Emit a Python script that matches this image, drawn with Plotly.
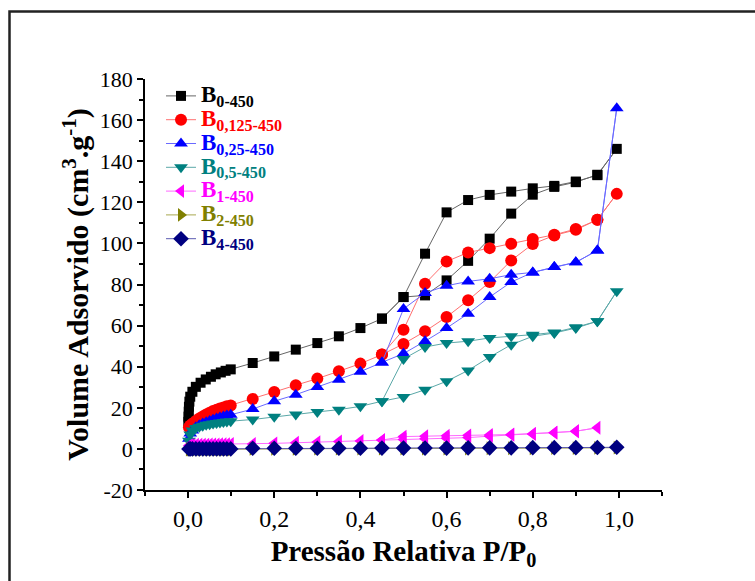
import plotly.graph_objects as go

# ---------------- data ----------------
P_LOW_B0 = [0.0005, 0.001, 0.0015, 0.002, 0.003, 0.005, 0.01, 0.018, 0.029, 0.041, 0.053, 0.064, 0.076, 0.087, 0.099]
P_LOW = [0.002, 0.005, 0.01, 0.018, 0.026, 0.034, 0.042, 0.05, 0.058, 0.066, 0.074, 0.082, 0.09, 0.099]
P_ADS = [0.15, 0.20, 0.25, 0.30, 0.35, 0.40, 0.45, 0.50, 0.55, 0.60, 0.65, 0.70, 0.75, 0.80, 0.85, 0.90, 0.95, 0.995]
P_ADS_B1 = [0.15, 0.20, 0.25, 0.30, 0.35, 0.40, 0.45, 0.50, 0.55, 0.60, 0.65, 0.70, 0.75, 0.80, 0.85, 0.90, 0.95]
P_DES = [0.95, 0.90, 0.85, 0.80, 0.75, 0.70, 0.65, 0.60, 0.55, 0.50, 0.45]

B0_LOW = [13.2, 15.7, 18.1, 20.5, 23.0, 25.4, 27.8, 30.2, 32.2, 33.8, 35.1, 36.3, 37.2, 38.0, 38.7]
B0_ADS = [41.8, 45.0, 48.3, 51.5, 54.8, 58.8, 63.4, 73.9, 74.7, 82.0, 91.5, 102.3, 114.5, 123.7, 127.5, 129.8, 133.4, 146.0]
B0_DES = [133.2, 130.1, 128.0, 126.8, 125.2, 123.6, 121.1, 115.1, 95.0, 73.9, 63.4]

B0125_LOW = [10.5, 11.4, 12.3, 13.6, 14.8, 15.8, 16.8, 17.6, 18.4, 19.0, 19.7, 20.2, 20.7, 21.1]
B0125_ADS = [24.3, 27.7, 31.0, 34.2, 37.8, 41.5, 45.9, 51.1, 57.2, 64.2, 72.3, 81.2, 91.7, 99.7, 103.9, 106.6, 111.5, 124.1]
B0125_DES = [111.5, 107.0, 104.2, 102.1, 99.8, 97.7, 95.6, 91.2, 80.4, 58.0, 45.9]

B025_LOW = [5.0, 7.5, 9.0, 10.5, 11.5, 12.3, 13.0, 13.6, 14.2, 14.8, 15.3, 15.8, 16.2, 16.6]
B025_ADS = [19.4, 23.2, 26.4, 30.1, 33.7, 37.6, 42.1, 46.4, 52.4, 58.8, 65.8, 73.9, 81.2, 85.9, 88.5, 90.8, 96.6, 165.8]
B025_DES = [96.6, 90.8, 88.5, 85.9, 84.8, 82.8, 81.5, 79.4, 75.9, 68.1, 42.1]

B05_LOW = [4.0, 7.0, 9.0, 10.2, 10.8, 11.3, 11.7, 12.0, 12.3, 12.6, 12.9, 13.1, 13.3, 13.5]
B05_ADS = [14.3, 15.6, 16.7, 18.0, 19.1, 20.7, 23.2, 25.3, 28.8, 32.9, 38.2, 44.7, 50.7, 54.8, 56.4, 58.8, 62.1, 76.7]
B05_DES = [62.1, 59.2, 56.7, 55.6, 54.8, 54.0, 52.4, 51.5, 49.6, 43.8, 23.2]

B1_LOW = [1.6, 1.8, 1.9, 2.0, 2.0, 2.1, 2.1, 2.2, 2.2, 2.2, 2.3, 2.3, 2.3, 2.4]
B1_ADS = [2.4, 2.7, 3.0, 3.3, 3.6, 3.9, 4.3, 4.6, 4.9, 5.2, 5.5, 6.2, 6.8, 7.3, 7.9, 8.6, 10.3]
B1_DES = [10.3, 8.6, 7.9, 7.3, 7.0, 6.8, 6.6, 6.4, 6.2, 6.0, 4.3]

B2_LOW = [-0.3, -0.3, -0.3, -0.3, -0.3, -0.3, -0.3, -0.3, -0.3, -0.3, -0.3, -0.3, -0.3, -0.3]
B2_ADS = [0.0, 0.0, 0.0, 0.1, 0.1, 0.1, 0.1, 0.2, 0.2, 0.2, 0.2, 0.3, 0.3, 0.3, 0.4, 0.4, 0.5, 0.6]

B4_LOW = [0.0, 0.0, 0.0, 0.0, 0.0, 0.0, 0.0, 0.0, 0.0, 0.0, 0.0, 0.0, 0.0, 0.0]
B4_ADS = [0.3, 0.3, 0.3, 0.3, 0.3, 0.3, 0.4, 0.4, 0.4, 0.4, 0.5, 0.5, 0.5, 0.6, 0.6, 0.6, 0.7, 0.8]

NAMES = ["0-450", "0,125-450", "0,25-450", "0,5-450", "1-450", "2-450", "4-450"]
MARKER_COLORS = ["#000000", "#ff0000", "#0000ff", "#008080", "#ff00ff", "#808000", "#000080"]
LINE_COLORS = ["#666666", "#ff7070", "#6a6aff", "#5aa8a8", "#ff6aff", "#a8a850", "#5a5ab0"]
SYMBOLS = ["square", "circle", "triangle-up", "triangle-down", "triangle-left", "triangle-right", "diamond"]
SIZES = [10, 12, 12, 12, 12, 12, 12]

Y_TICKS = [-20, 0, 20, 40, 60, 80, 100, 120, 140, 160, 180]
Y_TICKTEXT = ["-20", "0", "20", "40", "60", "80", "100", "120", "140", "160", "180"]
X_TICKS = [0.0, 0.2, 0.4, 0.6, 0.8, 1.0]
X_TICKTEXT = ["0,0", "0,2", "0,4", "0,6", "0,8", "1,0"]

series = [
    (P_LOW_B0 + P_ADS + P_DES, B0_LOW + B0_ADS + B0_DES),
    (P_LOW + P_ADS + P_DES, B0125_LOW + B0125_ADS + B0125_DES),
    (P_LOW + P_ADS + P_DES, B025_LOW + B025_ADS + B025_DES),
    (P_LOW + P_ADS + P_DES, B05_LOW + B05_ADS + B05_DES),
    (P_LOW + P_ADS_B1 + P_DES[1:], B1_LOW + B1_ADS + B1_DES[1:]),
    (P_LOW + P_ADS, B2_LOW + B2_ADS),
    (P_LOW + P_ADS, B4_LOW + B4_ADS),
]

FONT = "Liberation Serif, Times New Roman, Times, serif"

fig = go.Figure()
for i, (xs, ys) in enumerate(series):
    name = ("<span style='color:%s;font-size:23px'><b>B<sub>%s</sub></b></span>"
            % (MARKER_COLORS[i], NAMES[i]))
    fig.add_trace(go.Scatter(
        x=xs, y=ys, mode="lines+markers", name=name,
        line=dict(color=LINE_COLORS[i], width=1),
        marker=dict(symbol=SYMBOLS[i], size=SIZES[i], color=MARKER_COLORS[i], line=dict(width=0)),
    ))

W, H = 755, 581
L, R, T, B = 145, 93, 79, 91
pw, ph = W - L - R, H - T - B

def px(xp):
    return (xp - L) / pw

def py(yp):
    return (H - B - yp) / ph

fig.update_layout(
    width=W, height=H,
    margin=dict(l=L, r=R, t=T, b=B, autoexpand=False),
    paper_bgcolor="white", plot_bgcolor="white",
    font=dict(family=FONT, color="black"),
    showlegend=True,
    legend=dict(
        x=px(161), y=py(79), xanchor="left", yanchor="top",
        bgcolor="rgba(0,0,0,0)", borderwidth=0,
        font=dict(family=FONT, size=16, color="black"),
        tracegroupgap=0, itemwidth=30,
    ),
    xaxis=dict(
        range=[-0.1, 1.1], showgrid=False, zeroline=False,
        showline=True, linecolor="black", linewidth=1.5,
        ticks="outside", ticklen=6, tickwidth=1.5, tickcolor="black",
        tickvals=X_TICKS, ticktext=X_TICKTEXT,
        tickfont=dict(family=FONT, size=24, color="black"),
        minor=dict(dtick=0.1, tick0=0, ticks="outside", ticklen=4, tickwidth=1.5, tickcolor="black"),
        title=dict(text="<b>Pressão Relativa P/P<sub>0</sub></b>", standoff=10,
                   font=dict(family=FONT, size=29, color="black")),
        automargin=False,
    ),
    yaxis=dict(
        range=[-20, 180], showgrid=False, zeroline=False,
        showline=True, linecolor="black", linewidth=1.5,
        ticks="outside", ticklen=6, tickwidth=1.5, tickcolor="black",
        tickvals=Y_TICKS, ticktext=Y_TICKTEXT,
        tickfont=dict(family=FONT, size=22, color="black"),
        minor=dict(dtick=10, tick0=0, ticks="outside", ticklen=4, tickwidth=1.5, tickcolor="black"),
        title=dict(text="<b>Volume Adsorvido (cm<sup>3</sup>.g<sup>-1</sup>)</b>", standoff=2,
                   font=dict(family=FONT, size=30, color="black")),
        automargin=False,
    ),
    shapes=[dict(type="rect", xref="paper", yref="paper",
                 x0=px(9.5), x1=px(900), y0=py(800), y1=py(11.5),
                 line=dict(color="#222222", width=2.5), fillcolor="rgba(0,0,0,0)", layer="above")],
)

fig.write_html("out.html")
